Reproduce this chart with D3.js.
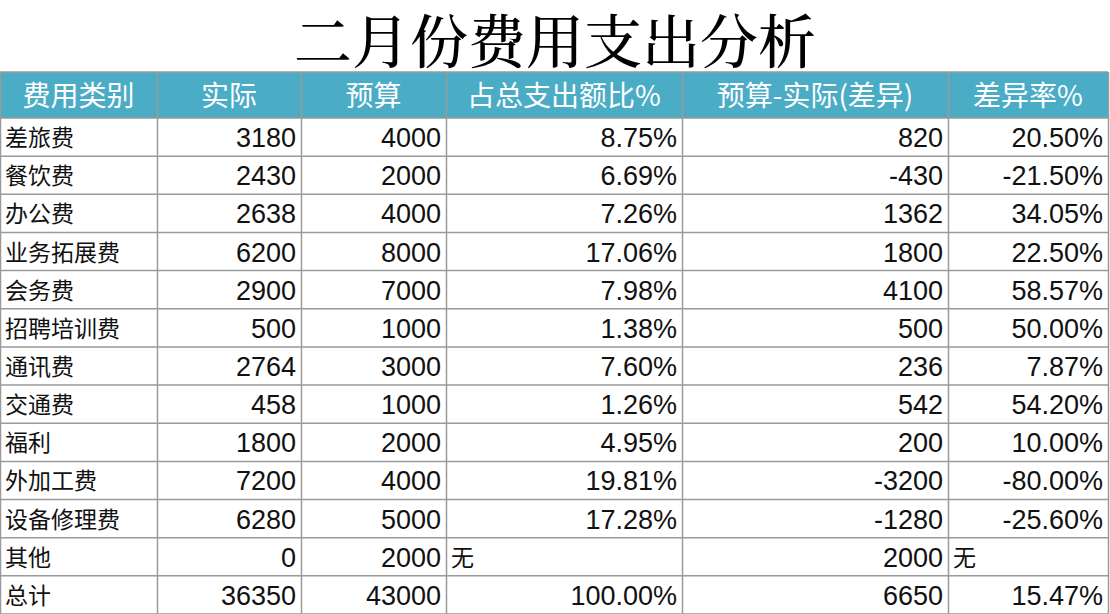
<!DOCTYPE html>
<html><head><meta charset="utf-8">
<script src="https://cdn.jsdelivr.net/npm/d3@7"></script>
<style>body{margin:0;background:#fff}</style></head>
<body><div id="chart"></div>
<script>
const title = '二月份费用支出分析';
const headers = ['费用类别', '实际', '预算', '占总支出额比%', '预算-实际(差异)', '差异率%'];
const categories = ['差旅费','餐饮费','办公费','业务拓展费','会务费','招聘培训费','通讯费','交通费','福利','外加工费','设备修理费','其他','总计'];
const actual = [3180,2430,2638,6200,2900,500,2764,458,1800,7200,6280,0,36350];
const budget = [4000,2000,4000,8000,7000,1000,3000,1000,2000,4000,5000,2000,43000];
const share = ['8.75%','6.69%','7.26%','17.06%','7.98%','1.38%','7.60%','1.26%','4.95%','19.81%','17.28%','无','100.00%'];
const diff = [820,-430,1362,1800,4100,500,236,542,200,-3200,-1280,2000,6650];
const rate = ['20.50%','-21.50%','34.05%','22.50%','58.57%','50.00%','7.87%','54.20%','10.00%','-80.00%','-25.60%','无','15.47%'];

const W = 1110, H = 614;
const colEdges = [0, 157, 301, 446, 682, 948, 1108];
const headTop = 72, headH = 46;
const font = '"Noto Sans CJK SC", sans-serif';

const svg = d3.select('#chart').append('svg').attr('width', W).attr('height', H);

svg.append('text')
  .attr('x', 555).attr('y', 38)
  .attr('text-anchor', 'middle').attr('dominant-baseline', 'central')
  .style('font-family', '"Noto Serif CJK SC", "Noto Sans CJK SC", serif')
  .style('font-size', '58px').style('font-weight', 500)
  .text(title);

// header
svg.append('rect').attr('x', 0).attr('y', headTop).attr('width', colEdges[6]).attr('height', headH).attr('fill', '#4BACC6');
headers.forEach((h, i) => {
  svg.append('text')
    .attr('x', (colEdges[i] + colEdges[i + 1]) / 2).attr('y', headTop + headH / 2 - 1)
    .attr('text-anchor', 'middle').attr('dominant-baseline', 'central')
    .style('font-family', font).style('font-size', '28px').attr('fill', '#fff')
    .text(h);
});

const rows = categories.map((c, i) => [c, actual[i], budget[i], share[i], diff[i], rate[i]]);
const y = d3.scaleBand().domain(d3.range(rows.length)).range([headTop + headH, H]);

rows.forEach((r, i) => {
  r.forEach((v, j) => {
    const cjk = j === 0 || v === '无';
    svg.append('text')
      .attr('x', cjk ? colEdges[j] + 5 : colEdges[j + 1] - 5)
      .attr('y', y(i) + y.bandwidth() / 2 + (cjk ? -1 : 1))
      .attr('text-anchor', cjk ? 'start' : 'end').attr('dominant-baseline', 'central')
      .style('font-family', cjk ? font : '"Liberation Sans", Arial, sans-serif')
      .style('font-size', cjk ? '23px' : '27px').attr('fill', '#111')
      .text(v);
  });
});

// grid
const g = svg.append('g').attr('stroke', '#9a9a9a').attr('stroke-width', 1.5);
colEdges.forEach(x => g.append('line').attr('x1', x + 0.5).attr('x2', x + 0.5).attr('y1', headTop).attr('y2', H));
d3.range(rows.length + 1).forEach(i => {
  const yy = i === 0 ? headTop + headH : y(i - 1) + y.bandwidth();
  g.append('line').attr('x1', 0).attr('x2', colEdges[6]).attr('y1', yy).attr('y2', yy);
});
g.append('line').attr('x1', 0).attr('x2', colEdges[6]).attr('y1', headTop).attr('y2', headTop);
</script></body></html>
